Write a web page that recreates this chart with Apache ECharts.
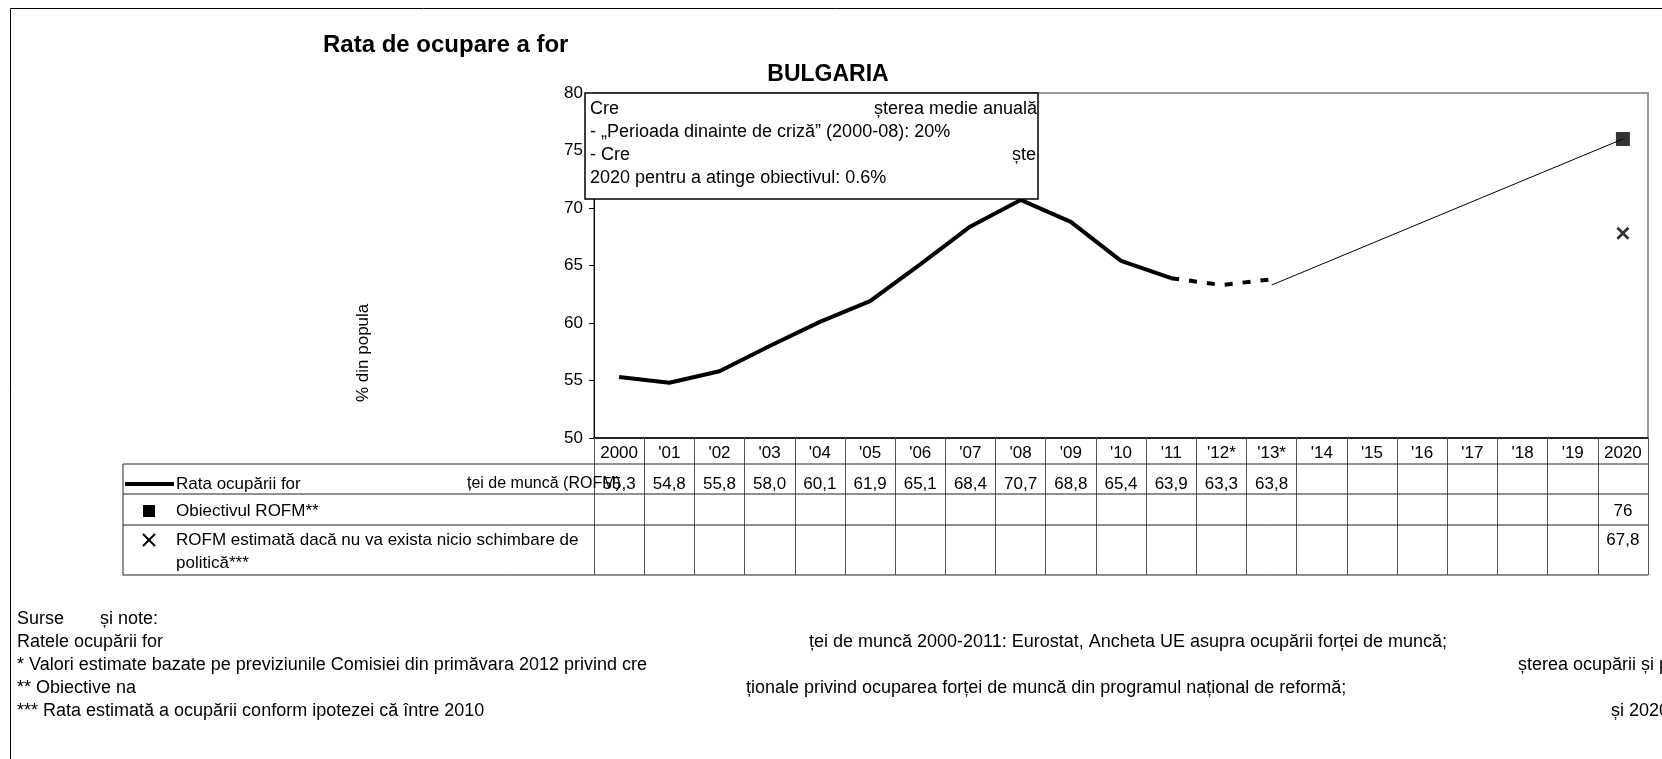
<!DOCTYPE html>
<html>
<head>
<meta charset="utf-8">
<script src="https://cdn.jsdelivr.net/npm/echarts@6/dist/echarts.min.js"></script>
<style>
html, body { margin: 0; padding: 0; background: #fff; }
#chart { width: 1662px; height: 759px; }
</style>
</head>
<body>
<div id="chart"></div>
<script>
// ani pe axa x (cu * = valori estimate)
const years = ['2000', "'01", "'02", "'03", "'04", "'05", "'06", "'07", "'08", "'09", "'10",
	"'11", "'12*", "'13*", "'14", "'15", "'16", "'17", "'18", "'19", '2020']
// rata ocuparii fortei de munca (ROFM), 2000-2013
const rofm = [55.3, 54.8, 55.8, 58.0, 60.1, 61.9, 65.1, 68.4, 70.7, 68.8, 65.4, 63.9, 63.3, 63.8,
	null, null, null, null, null, null, null]
const lastActual = 11 // '11 = ultimul an Eurostat, apoi estimari
const lastForecast = 13
// obiectivul ROFM 2020 si ROFM fara schimbare de politica
const target = [null, null, null, null, null, null, null, null, null, null, null,
	null, null, null, null, null, null, null, null, null, 76]
const noChange = [null, null, null, null, null, null, null, null, null, null, null,
	null, null, null, null, null, null, null, null, null, 67.8]
// traiectoria spre obiectiv
const pathStart = 63.3
const yTicks = { min: 50, max: 80, step: 5 }

const FONT = '"Liberation Sans", Arial, sans-serif'
const crossPath = 'path://M0,1.5L1.5,0L5,3.5L8.5,0L10,1.5L6.5,5L10,8.5L8.5,10L5,6.5L1.5,10L0,8.5L3.5,5Z'

const solid = rofm.map((v, i) => (i <= lastActual ? v : null))
const dashed = rofm.map((v, i) => (i >= lastActual && i <= lastForecast ? v : null))
const trend = years.map((y, i) => (i === lastForecast ? pathStart : i === years.length - 1 ? target[i] : null))

const chart = echarts.init(document.getElementById('chart'))

const option = {
	animation: false,
	backgroundColor: '#fff',
	textStyle: { fontFamily: FONT, color: '#000' },
	grid: {
		left: 594, top: 93, right: 14, bottom: 321,
		show: true, borderColor: '#9a9a9a', borderWidth: 2, backgroundColor: 'transparent',
	},
	xAxis: {
		type: 'category',
		data: years,
		boundaryGap: true,
		axisLine: { lineStyle: { color: '#000', width: 1.5 } },
		axisTick: { show: true, length: 137, interval: 0, lineStyle: { color: '#555', width: 1 } },
		axisLabel: { interval: 0, fontSize: 17, color: '#000', margin: 7, fontFamily: FONT },
		splitLine: { show: false },
	},
	yAxis: {
		type: 'value',
		min: yTicks.min, max: yTicks.max, interval: yTicks.step,
		axisLine: { show: true, lineStyle: { color: '#000', width: 1 } },
		axisTick: { show: true, length: 5, lineStyle: { color: '#000' } },
		axisLabel: { fontSize: 17, color: '#000', margin: 11, fontFamily: FONT },
		splitLine: { show: false },
	},
	series: [
		{
			name: 'Rata ocupării forței de muncă (ROFM)',
			type: 'line', data: solid, symbol: 'none', z: 3,
			lineStyle: { color: '#000', width: 4 },
		},
		{
			type: 'line', data: dashed, symbol: 'none', z: 3,
			lineStyle: { color: '#000', width: 4, type: [8, 10] },
		},
		{
			type: 'line', data: trend, symbol: 'none', connectNulls: true, z: 2,
			lineStyle: { color: '#000', width: 1 },
		},
		{
			name: 'Obiectivul ROFM**',
			type: 'scatter', data: target, symbol: 'rect', symbolSize: 14, z: 4,
			itemStyle: { color: '#000' },
		},
		{
			name: 'ROFM estimată dacă nu va exista nicio schimbare de politică***',
			type: 'scatter', data: noChange, symbol: crossPath, symbolSize: 13, z: 4,
			itemStyle: { color: '#000' },
		},
	],
}

chart.setOption(option)

// tabelul de date sub axa x, pe coloanele axei
const cx = i => chart.convertToPixel({ xAxisIndex: 0 }, i)
const colW = cx(1) - cx(0)
const tableLeft = 123
const tableRight = cx(years.length - 1) + colW / 2
const rowLines = [464, 494, 525, 575]
const fmt1 = v => v.toFixed(1).replace('.', ',')
const fmtN = v => String(v).replace('.', ',')
const rows = [
	{ vals: rofm, fmt: fmt1, y: 484 },
	{ vals: target, fmt: fmtN, y: 511 },
	{ vals: noChange, fmt: fmt1, y: 540 },
]

const txt = (x, y, text, extra) => ({
	type: 'text', x, y, z: 20,
	style: Object.assign({ text, font: '17px ' + FONT, fill: '#000', textVerticalAlign: 'middle' }, extra || {}),
})
const line = (x1, y1, x2, y2, w, c) => ({
	type: 'line', z: 15, shape: { x1, y1, x2, y2 },
	style: { stroke: c || '#000', lineWidth: w || 1 },
})

const graphic = []
// chenar exterior
graphic.push({ type: 'rect', z: 0, shape: { x: 10.5, y: 8.5, width: 1700, height: 800 }, style: { fill: 'none', stroke: '#000', lineWidth: 1 } })
rowLines.forEach(y => graphic.push(line(tableLeft, y, tableRight, y, 1, '#222')))
graphic.push(line(tableLeft, rowLines[0], tableLeft, rowLines[3], 1, '#222'))

rows.forEach(r => {
	r.vals.forEach((v, i) => {
		if (v == null) return
		graphic.push(txt(cx(i), r.y, r.fmt(v), { textAlign: 'center' }))
	})
})

// legenda din tabel
graphic.push(line(125, 484, 174, 484, 4))
graphic.push(txt(176, 484, 'Rata ocupării for'))
graphic.push(txt(467, 484, 'ței de muncă (ROFM)', { font: '16px ' + FONT }))
graphic.push({ type: 'rect', z: 20, shape: { x: 143, y: 505, width: 12, height: 12 }, style: { fill: '#000' } })
graphic.push(txt(176, 511, 'Obiectivul ROFM**'))
graphic.push(line(143, 534, 155, 546, 2))
graphic.push(line(155, 534, 143, 546, 2))
graphic.push(txt(176, 540, 'ROFM estimată dacă nu va exista nicio schimbare de'))
graphic.push(txt(176, 563, 'politică***'))

// titluri
graphic.push(txt(323, 45, 'Rata de ocupare a for', { font: 'bold 24px ' + FONT }))
graphic.push(txt(828, 75, 'BULGARIA', { font: 'bold 23px ' + FONT, textAlign: 'center' }))
graphic.push({
	type: 'text', x: 363, y: 402, rotation: Math.PI / 2, z: 20,
	style: { text: '% din popula', font: '17px ' + FONT, fill: '#000', textVerticalAlign: 'middle', textAlign: 'left' },
})

// caseta cu cresterea medie anuala
graphic.push({ type: 'rect', z: 18, shape: { x: 585, y: 93, width: 453, height: 106 }, style: { fill: '#fff', stroke: '#000', lineWidth: 1.5 } })
const f18 = { font: '18px ' + FONT }
graphic.push(txt(590, 109, 'Cre', f18))
graphic.push(txt(874, 109, 'șterea medie anuală', f18))
graphic.push(txt(590, 132, '- „Perioada dinainte de criză” (2000-08): 20%', f18))
graphic.push(txt(590, 155, '- Cre', f18))
graphic.push(txt(1012, 155, 'ște', f18))
graphic.push(txt(590, 178, '2020 pentru a atinge obiectivul: 0.6%', f18))

// surse si note
const notes = [
	[[17, 'Surse'], [100, 'și note:']],
	[[17, 'Ratele ocupării for'], [809, 'ței de muncă 2000-2011: Eurostat, Ancheta UE asupra ocupării forței de muncă;']],
	[[17, '* Valori estimate bazate pe previziunile Comisiei din primăvara 2012 privind cre'], [1518, 'șterea ocupării și pe creș']],
	[[17, '** Obiective na'], [746, 'ționale privind ocuparea forței de muncă din programul național de reformă;']],
	[[17, '*** Rata estimată a ocupării conform ipotezei că între 2010'], [1611, 'și 2020 r']],
]
notes.forEach((parts, k) => {
	parts.forEach(p => graphic.push(txt(p[0], 619 + k * 23, p[1], f18)))
})

chart.setOption({ graphic })
</script>
</body>
</html>
